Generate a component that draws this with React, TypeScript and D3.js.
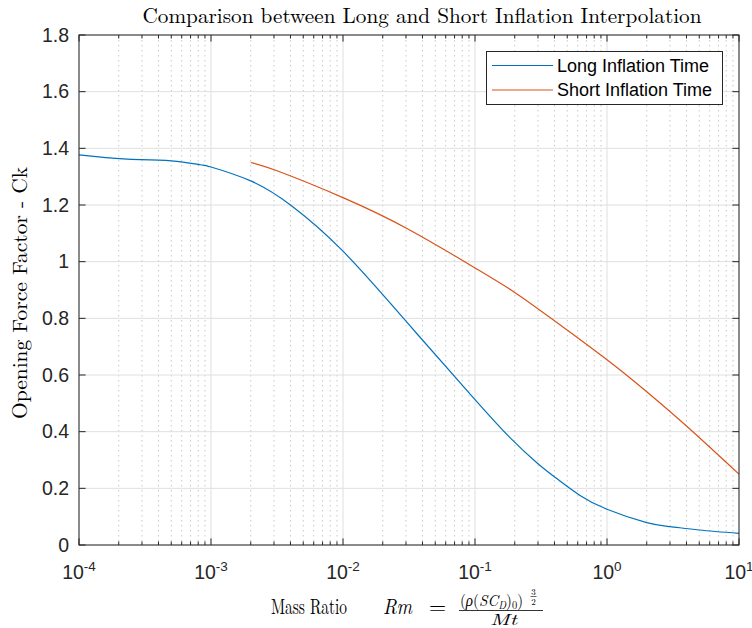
import React, { useEffect, useRef } from 'react';
import * as d3 from 'd3';

// mass ratio (x) and opening force factor (y)
const longX = [1e-4, 1.6e-4, 2.5e-4, 5e-4, 8.3e-4, 1e-3, 2e-3, 4e-3, 1e-2, 3.2e-2, 0.1, 0.184, 0.3, 0.44, 0.62, 1, 2, 3, 5, 10];
const longY = [1.377, 1.367, 1.361, 1.356, 1.342, 1.334, 1.285, 1.2, 1.037, 0.775, 0.513, 0.379, 0.287, 0.226, 0.176, 0.126, 0.079, 0.065, 0.053, 0.041];
const shortX = [2e-3, 3.2e-3, 1e-2, 3.2e-2, 0.1, 0.195, 0.37, 1, 2, 4, 10];
const shortY = [1.35, 1.32, 1.226, 1.112, 0.978, 0.895, 0.803, 0.654, 0.541, 0.42, 0.25];

const yTicks = [0, 0.2, 0.4, 0.6, 0.8, 1, 1.2, 1.4, 1.6, 1.8];
const xExponents = [-4, -3, -2, -1, 0, 1];
const seriesNames = ['Long Inflation Time', 'Short Inflation Time'];
const seriesColors = ['#0072BD', '#D95319'];

const W = 752;
const H = 628;
const left = 79, right = 739, top = 35, bottom = 545;
const axisColor = '#262626';
const sans = '"Liberation Sans", Arial, Helvetica, sans-serif';
const serif = '"Latin Modern Roman", "Liberation Serif", "Times New Roman", serif';

export default function App() {
  const ref = useRef<SVGSVGElement>(null);

  useEffect(() => {
    const svg = d3.select(ref.current);
    svg.selectAll('*').remove();

    const x = d3.scaleLog().domain([1e-4, 10]).range([left, right]);
    const y = d3.scaleLinear().domain([0, 1.8]).range([bottom, top]);

    const majors = xExponents.map(e => Math.pow(10, e));
    const minors = x.ticks().filter(t => !majors.some(m => Math.abs(m - t) / m < 1e-6));

    svg.append('rect').attr('width', W).attr('height', H).attr('fill', 'white');

    // grid
    const grid = svg.append('g');
    grid.selectAll('.minor').data(minors).enter().append('line')
      .attr('x1', d => x(d)).attr('x2', d => x(d))
      .attr('y1', top).attr('y2', bottom)
      .attr('stroke', '#c8c8c8').attr('stroke-dasharray', '1.5,3.5');
    grid.selectAll('.majx').data(majors).enter().append('line')
      .attr('x1', d => x(d)).attr('x2', d => x(d))
      .attr('y1', top).attr('y2', bottom)
      .attr('stroke', '#dfdfdf');
    grid.selectAll('.majy').data(yTicks).enter().append('line')
      .attr('x1', left).attr('x2', right)
      .attr('y1', d => y(d)).attr('y2', d => y(d))
      .attr('stroke', '#dfdfdf');

    // curves
    const line = d3.line<[number, number]>()
      .x(d => x(d[0])).y(d => y(d[1]))
      .curve(d3.curveNatural);
    const series = [
      longX.map((v, i) => [v, longY[i]] as [number, number]),
      shortX.map((v, i) => [v, shortY[i]] as [number, number]),
    ];
    svg.append('g').selectAll('path').data(series).enter().append('path')
      .attr('d', d => line(d))
      .attr('fill', 'none')
      .attr('stroke', (d, i) => seriesColors[i])
      .attr('stroke-width', 1.2);

    // box and ticks
    const ax = svg.append('g').attr('stroke', axisColor).attr('stroke-width', 1);
    ax.append('rect').attr('x', left).attr('y', top)
      .attr('width', right - left).attr('height', bottom - top).attr('fill', 'none');
    const xt = (vals: number[], len: number) => {
      vals.forEach(v => {
        ax.append('line').attr('x1', x(v)).attr('x2', x(v)).attr('y1', bottom).attr('y2', bottom - len);
        ax.append('line').attr('x1', x(v)).attr('x2', x(v)).attr('y1', top).attr('y2', top + len);
      });
    };
    xt(majors, 6.6);
    xt(minors, 3.5);
    yTicks.forEach(v => {
      ax.append('line').attr('x1', left).attr('x2', left + 6.6).attr('y1', y(v)).attr('y2', y(v));
      ax.append('line').attr('x1', right).attr('x2', right - 6.6).attr('y1', y(v)).attr('y2', y(v));
    });

    // tick labels
    svg.append('g').selectAll('text').data(yTicks).enter().append('text')
      .attr('x', left - 10).attr('y', d => y(d)).attr('dy', '0.35em')
      .attr('text-anchor', 'end')
      .attr('font-family', sans).attr('font-size', 19.5).attr('fill', axisColor)
      .text(d => String(d));

    const xl = svg.append('g').selectAll('text').data(xExponents).enter().append('text')
      .attr('x', d => x(Math.pow(10, d))).attr('y', 579)
      .attr('text-anchor', 'middle')
      .attr('font-family', sans).attr('font-size', 19.5).attr('fill', axisColor);
    xl.append('tspan').text('10');
    xl.append('tspan').attr('dy', -8).attr('font-size', 13.5).text(d => String(d));

    // title
    svg.append('text').attr('x', 422).attr('y', 23).attr('text-anchor', 'middle')
      .attr('font-family', serif).attr('font-size', 21).attr('fill', 'black')
      .attr('textLength', 559).attr('lengthAdjust', 'spacingAndGlyphs')
      .text('Comparison between Long and Short Inflation Interpolation');

    // y label
    svg.append('text').attr('transform', 'translate(27,293) rotate(-90)')
      .attr('text-anchor', 'middle')
      .attr('font-family', serif).attr('font-size', 21).attr('fill', 'black')
      .attr('textLength', 252).attr('lengthAdjust', 'spacingAndGlyphs')
      .text('Opening Force Factor - Ck');

    // x label: Mass Ratio Rm = (rho(S C_D)_0)^(3/2) / Mt
    const lab = svg.append('g').attr('font-family', serif).attr('fill', 'black');
    lab.append('text').attr('x', 271).attr('y', 614).attr('font-size', 22)
      .attr('textLength', 76).attr('lengthAdjust', 'spacingAndGlyphs').text('Mass Ratio');
    lab.append('text').attr('x', 383).attr('y', 614).attr('font-size', 22).attr('font-style', 'italic')
      .attr('textLength', 29).attr('lengthAdjust', 'spacingAndGlyphs').text('Rm');
    lab.append('text').attr('x', 437.5).attr('y', 614).attr('font-size', 22).attr('text-anchor', 'middle').text('=');
    const num = lab.append('text').attr('x', 460).attr('y', 606).attr('font-size', 16)
      .attr('textLength', 63).attr('lengthAdjust', 'spacingAndGlyphs');
    num.append('tspan').text('(');
    num.append('tspan').attr('font-style', 'italic').text('ρ');
    num.append('tspan').text('(');
    num.append('tspan').attr('font-style', 'italic').text('SC');
    num.append('tspan').attr('font-style', 'italic').attr('font-size', 11).attr('dy', 3).text('D');
    num.append('tspan').attr('dy', -3).text(')');
    num.append('tspan').attr('font-size', 11).attr('dy', 3).text('0');
    num.append('tspan').attr('dy', -3).text(')');
    lab.append('text').attr('x', 533.5).attr('y', 594.5).attr('font-size', 9).attr('text-anchor', 'middle').text('3');
    lab.append('line').attr('x1', 530.5).attr('x2', 536.5).attr('y1', 596.5).attr('y2', 596.5)
      .attr('stroke', 'black').attr('stroke-width', 0.6);
    lab.append('text').attr('x', 533.5).attr('y', 604.5).attr('font-size', 9).attr('text-anchor', 'middle').text('2');
    lab.append('line').attr('x1', 459).attr('x2', 543).attr('y1', 610.5).attr('y2', 610.5)
      .attr('stroke', 'black').attr('stroke-width', 0.8);
    lab.append('text').attr('x', 503.5).attr('y', 625).attr('font-size', 16).attr('font-style', 'italic')
      .attr('text-anchor', 'middle').attr('textLength', 27).attr('lengthAdjust', 'spacingAndGlyphs').text('Mt');

    // legend
    const lg = svg.append('g');
    lg.append('rect').attr('x', 486.5).attr('y', 51.5).attr('width', 236).attr('height', 53)
      .attr('fill', 'white').attr('stroke', axisColor).attr('stroke-width', 1);
    seriesNames.forEach((name, i) => {
      const ly = 65.5 + i * 24.5;
      lg.append('line').attr('x1', 492).attr('x2', 553).attr('y1', ly).attr('y2', ly)
        .attr('stroke', seriesColors[i]).attr('stroke-width', 1.2);
      lg.append('text').attr('x', 557).attr('y', ly).attr('dy', '0.35em')
        .attr('font-family', sans).attr('font-size', 18).attr('fill', 'black')
        .text(name);
    });
  }, []);

  return (
    <div style={{ position: 'absolute', left: 0, top: 0 }}>
      <svg ref={ref} width={W} height={H} style={{ display: 'block' }} />
    </div>
  );
}
